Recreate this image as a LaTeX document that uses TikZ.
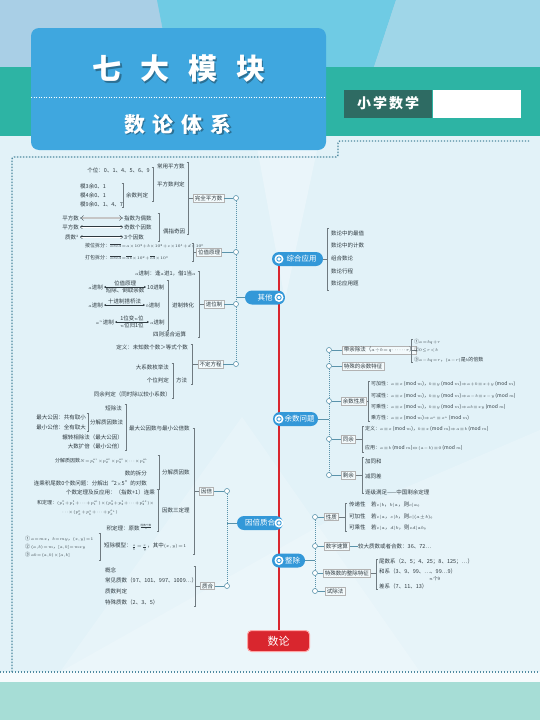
\RequirePackage{fix-cm}
\documentclass[tikz,border=0pt]{standalone}
\usepackage{amsmath}
\usepackage{fontspec}
\setmainfont{Noto Sans CJK SC}
\usetikzlibrary{positioning,arrows.meta,calc}
% smaller math inside the small texts
\DeclareMathSizes{5.5}{4.4}{3.3}{2.6}
\DeclareMathSizes{5}{4}{3}{2.4}

\definecolor{skyl}{HTML}{A9CFE6}
\definecolor{skyc}{HTML}{6FCBE4}
\definecolor{skyr}{HTML}{9FD6E8}
\definecolor{tealband}{HTML}{2DB4A4}
\definecolor{paper}{HTML}{E2F2F8}
\definecolor{titleblue}{HTML}{3FA7DF}
\definecolor{titleshade}{HTML}{2B6F93}
\definecolor{darkteal}{HTML}{2E6B63}
\definecolor{pillblue}{HTML}{3398D8}
\definecolor{dotc}{HTML}{5A93AB}
\definecolor{framedot}{HTML}{4F8AA0}
\definecolor{redline}{HTML}{D9262E}
\definecolor{textc}{HTML}{2F3A40}
\definecolor{brkc}{HTML}{6F7A80}
\definecolor{bottomteal}{HTML}{A6DDD6}

% tight math spacing for the small texts
\newcommand\tightmath{\thinmuskip=1mu\medmuskip=1mu\thickmuskip=1.5mu}
% brackets: texts on the left (bkl) or on the right (bkr)
\newcommand\bkl[3]{\draw[brk] ({#1-1.5},#2) -- (#1,#2) -- (#1,#3) -- ({#1-1.5},#3);}
\newcommand\bkr[3]{\draw[brk] ({#1+1.5},#2) -- (#1,#2) -- (#1,#3) -- ({#1+1.5},#3);}

\begin{document}
\begin{tikzpicture}[x=1pt, y=-1pt,
    pill/.style={rounded corners=7pt, fill=pillblue, text=white, font=\fontsize{7.5}{8}\selectfont, minimum height=14pt, inner xsep=3pt, inner ysep=0pt},
    ring/.style={circle, fill=white, minimum size=9pt, inner sep=0pt, path picture={\draw[pillblue, line width=0.9pt] (path picture bounding box.center) circle (2.2pt);}},
    sub/.style={draw=gray!60, fill=white!60!paper, text=textc, font=\fontsize{5.5}{6}\selectfont\tightmath, inner xsep=1.5pt, inner ysep=1.2pt, line width=0.5pt},
    dot/.style={circle, draw=dotc, fill=white, line width=0.6pt, minimum size=5pt, inner sep=0pt},
    txt/.style={font=\fontsize{5.5}{6.5}\selectfont\tightmath, text=textc, inner sep=0pt},
    tiny/.style={txt, font=\fontsize{5}{6}\selectfont\tightmath},
    brk/.style={draw=brkc, line width=0.45pt},
    link/.style={draw=dotc, line width=0.6pt},
    dotline/.style={draw=dotc, line width=0.8pt, dash pattern=on 0.8pt off 1.2pt},
    framedots/.style={draw=framedot, line width=1.4pt, dash pattern=on 1.4pt off 1.6pt},
    dbl/.style={double, double distance=0.9pt, line width=0.35pt, draw=textc, {Implies}-{Implies}, shorten <=1pt, shorten >=1pt},
    conv/.style={draw=textc, line width=0.4pt, {Stealth[length=2pt,width=2pt]}-{Stealth[length=2pt,width=2pt]}, shorten <=1pt, shorten >=1pt}]
  \useasboundingbox (0,0) rectangle (540,720);
  % background
  \fill[skyl] (0,0) rectangle (540,67);
  \fill[skyc] (157,0) -- (396,0) -- (374,67) -- (170,67) -- cycle;
  \fill[skyr] (396,0) -- (540,0) -- (540,67) -- (374,67) -- cycle;
  \fill[tealband] (0,67) rectangle (540,136);
  \fill[paper] (0,136) rectangle (540,682);
  \fill[white, opacity=0.3] (255,136) -- (320,136) -- (285,300) -- cycle;
  \fill[white, opacity=0.2] (242,417) -- (60,672) -- (420,672) -- cycle;
  \fill[white, opacity=0.2] (60,672) -- (330,520) -- (540,430) -- (540,672) -- cycle;
  \fill[white!70!paper] (0,672) rectangle (540,682);
  \fill[bottomteal] (0,682) rectangle (540,720);
  \draw[framedots, rounded corners=2pt] (12,672) -- (12,157) -- (338,157) -- (338,141) -- (529,141);
  \draw[framedots] (0,672) -- (540,672);

  % header
  \node[fill=titleblue, rounded corners=8pt, minimum width=295, minimum height=122] (title) at (178.5,89) {};
  \draw[white, line width=1pt, dash pattern=on 1pt off 1.5pt] (31,97) -- (326,97);
  \node[text=titleshade, font=\fontsize{29}{30}\selectfont\bfseries] at (180.5,70.5) {七\hspace{19pt}大\hspace{19pt}模\hspace{19pt}块};
  \node[text=white, font=\fontsize{29}{30}\selectfont\bfseries] (qidamk) at (179,69) {七\hspace{19pt}大\hspace{19pt}模\hspace{19pt}块};
  \node[text=titleshade, font=\fontsize{21}{22}\selectfont\bfseries] at (179.5,125.5) {数\hspace{8pt}论\hspace{8pt}体\hspace{8pt}系};
  \node[text=white, font=\fontsize{21}{22}\selectfont\bfseries] (shulunts) at (178,124) {数\hspace{8pt}论\hspace{8pt}体\hspace{8pt}系};
  \node[fill=darkteal, text=white, font=\fontsize{14}{15}\selectfont\bfseries, minimum width=88, minimum height=28, anchor=west] (xxsx) at (344,103.5) {小\hspace{2pt}学\hspace{2pt}数\hspace{2pt}学};
  \node[fill=white, minimum width=88, minimum height=28, inner sep=0pt, right=0pt of xxsx] (blank) {};

  % trunk
  \node[fill=redline, draw=red!35, line width=1pt, rounded corners=4pt, text=white, font=\fontsize{11}{12}\selectfont, minimum width=62, minimum height=21] (shulun) at (278.5,641) {数论};
  \coordinate (top) at (279,259);
  \draw[redline, line width=1.3pt] (top) -- (shulun.north -| top);
  \node[pill, minimum width=51] (zonghe) at (297.5,259) {\hspace{8pt}综合应用};
  \node[pill, minimum width=40] (qita) at (265,297.5) {其他\hspace{8pt}};
  \node[pill, minimum width=45] (yushu) at (295.5,419) {\hspace{8pt}余数问题};
  \node[pill, minimum width=46] (yinbei) at (260,523) {因倍质合\hspace{8pt}};
  \node[pill, minimum width=33] (zhengchu) at (288.5,560.5) {\hspace{8pt}整除};
  \foreach \y in {259,297.5,419,523,560.5}
    \node[ring] at (279,\y) {};

  % 其他
  \node[sub] (wanquan) at (208.5,198) {完全平方数};
  \node[sub] (weizhi) at (209,252) {位值原理};
  \node[sub] (jinwei) at (214,304) {进位制};
  \node[sub] (budingfc) at (210.5,364) {不定方程};
  \node[dot] (d-wanquan) at (236,198) {};
  \node[dot] (d-weizhi) at (236,252) {};
  \node[dot] (d-jinwei) at (236,304) {};
  \node[dot] (d-budingfc) at (236,364) {};
  \foreach \n in {wanquan,weizhi,jinwei,budingfc}
    \draw[link] (\n) -- (d-\n);
  \draw[dotline] (d-wanquan) -- (d-weizhi) -- (d-jinwei) -- (d-budingfc);
  \coordinate (j-qita) at (236,297.5);
  \draw[link] (qita.west) -- (j-qita);

  \node[txt, anchor=west] (cyps) at (157,166) {常用平方数};
  \node[txt, anchor=west] (pfpd) at (157,184) {平方数判定};
  \node[txt, anchor=east] (gewei) at (150,170) {个位：0、1、4、5、6、9};
  \node[txt, anchor=west] (mod3) at (80,186) {模3余0、1};
  \node[txt, anchor=west] (mod4) at (80,195) {模4余0、1};
  \node[txt, anchor=west] (mod9) at (80,204) {模9余0、1、4、7};
  \bkl{123}{183}{207}
  \node[txt, anchor=west] (yspd) at (126,195) {余数判定};
  \bkl{153}{167}{201}
  \node[txt, anchor=east] (pfs1) at (79,218) {平方数};
  \node[txt, anchor=west] (zsod) at (124,218) {指数为偶数};
  \node[txt, anchor=east] (pfs2) at (79,227) {平方数};
  \node[txt, anchor=west] (jsgys) at (124,227) {奇数个因数};
  \node[txt, anchor=east] (zsq) at (79,237) {质数$^2$};
  \node[txt, anchor=west] (sgys) at (124,237) {3个因数};
  \draw[dbl, double=gray!45, double distance=1.6pt] (pfs1) -- (zsod);
  \draw[dbl] (pfs2) -- (jsgys);
  \draw[dbl] (zsq) -- (sgys);
  \bkl{159}{213}{241}
  \node[txt, anchor=west] (ozjy) at (163,231) {偶指奇因};
  \bkl{188}{162}{234}
  \draw[brk] (188,198) -- (wanquan.west);

  \node[tiny, anchor=west] (awcf) at (85,246) {按位拆分：$\overline{abcd}=a\times10^3+b\times10^2+c\times10^1+d\times10^0$};
  \node[tiny, anchor=west] (dbcf) at (85,258) {打包拆分：$\overline{abcd}=\overline{ab}\times10^2+\overline{cd}\times10^0$};
  \bkl{193}{243}{261}
  \draw[brk] (193,252) -- (weizhi.west);

  \node[txt, anchor=west] (fenga) at (135,273) {$a$进制：逢$a$进1，借1当$a$};
  \node[txt, anchor=east] (ajz1) at (103,287) {$a$进制};
  \node[txt, anchor=west] (sjz1) at (147,287) {10进制};
  \draw[conv] (ajz1) -- (sjz1) node[midway, above=0.8pt, txt] {位值原理} node[midway, below=0.8pt, txt] {短除、倒取余数};
  \node[txt, anchor=east] (ajz2) at (103,305) {$a$进制};
  \node[txt, anchor=west] (bjz2) at (146,305) {$b$进制};
  \draw[conv] (ajz2) -- (bjz2) node[midway, above=0.8pt, txt] {十进制搭桥法};
  \node[txt, anchor=east] (anjz) at (114,322) {$a^n$进制};
  \node[txt, anchor=west] (ajz3) at (150,322) {$a$进制};
  \draw[conv] (anjz) -- (ajz3) node[midway, above=0.8pt, txt] {1位变$n$位} node[midway, below=0.8pt, txt] {$n$位归1位};
  \bkl{168}{280}{330}
  \node[txt, anchor=west] (jzzh) at (172,305) {进制转化};
  \node[txt, anchor=west] (szhh) at (153,334) {四则混合运算};
  \bkl{199}{271}{337}
  \draw[brk] (199,304) -- (jinwei.west);

  \node[txt, anchor=east] (dingyi) at (188,347) {定义：未知数个数＞等式个数};
  \node[txt, anchor=east] (dxsm) at (169,367) {大系数枚举法};
  \node[txt, anchor=east] (gwpd) at (169,380) {个位判定};
  \node[txt, anchor=east] (typd) at (171,394) {同余判定（同时除以较小系数）};
  \bkl{173}{363}{398}
  \node[txt, anchor=west] (fangfa) at (176,380) {方法};
  \bkl{192}{344}{384}
  \draw[brk] (192,364) -- (budingfc.west);

  % 因倍质合
  \node[sub] (yinbeib) at (206.5,491) {因倍};
  \node[sub] (zhihe) at (207.5,586) {质合};
  \node[dot] (d-yinbeib) at (227,491) {};
  \node[dot] (d-zhihe) at (227,586) {};
  \foreach \n in {yinbeib,zhihe}
    \draw[link] (\n) -- (d-\n);
  \draw[dotline] (d-yinbeib) -- (d-zhihe);
  \coordinate (j-yinbei) at (227,523);
  \draw[link] (yinbei.west) -- (j-yinbei);

  \node[txt, anchor=east] (dcf) at (122,408) {短除法};
  \node[txt, anchor=east] (zdgy) at (86,417) {最大公因：共有取小};
  \node[txt, anchor=east] (zxgb) at (86,427) {最小公倍：全有取大};
  \bkl{88}{413}{431}
  \node[txt, anchor=west] (fjzy) at (90,422) {分解质因数法};
  \node[txt, anchor=east] (zzxc) at (123,437) {辗转相除法（最大公因）};
  \node[txt, anchor=east] (dskb) at (123,446) {大数扩倍（最小公倍）};
  \bkl{126}{404}{450}
  \node[txt, anchor=west] (gygb) at (129,428) {最大公因数与最小公倍数};
  \node[tiny, anchor=west] (fjN) at (55,461) {分解质因数$N=p_1^{a_1}\times p_2^{a_2}\times p_3^{a_3}\times\cdots\times p_k^{a_k}$};
  \node[txt, anchor=east] (sdcf) at (147,473) {数的拆分};
  \node[txt, anchor=east] (wsl) at (147,484) {连乘积尾数0个数问题：分解出“2$\times$5”的对数};
  \bkl{159}{455}{489}
  \node[txt, anchor=west] (fjzys) at (162,472) {分解质因数};
  \node[txt, anchor=east] (gsdl) at (155,492.5) {个数定理及反应用：（指数+1）连乘};
  \node[tiny, anchor=west] (hdl) at (37,503) {和定理：$(p_1^0+p_1^1+\cdots+p_1^{a_1})\times(p_2^0+p_2^1+\cdots+p_2^{a_2})\times$};
  \node[tiny, anchor=west] (hdl2) at (62,513) {$\cdots\times(p_k^0+p_k^1+\cdots+p_k^{a_k})$};
  \node[txt, anchor=east] (jdl) at (153,527.5) {积定理：原数$^{\frac{\text{因数个数}}{2}}$};
  \bkl{158}{489}{531}
  \node[txt, anchor=west] (ysdl) at (162,510) {因数三定理};
  \node[tiny, anchor=west] (dc1) at (25,539) {①\,$a=mx$，$b=my$，$(x,y)=1$};
  \node[tiny, anchor=west] (dc2) at (25,547) {②\,$(a,b)=m$，$[a,b]=mxy$};
  \node[tiny, anchor=west] (dc3) at (25,555) {③\,$ab=(a,b)\times[a,b]$};
  \bkl{100}{533}{560}
  \node[txt, anchor=west] (dcmx) at (104,547) {短除模型：$\frac{a}{b}=\frac{x}{y}$，其中$(x,y)=1$};
  \bkl{194}{428}{554}
  \draw[brk] (194,491) -- (yinbeib.west);

  \node[txt, anchor=west] (gainian) at (105,570) {概念};
  \node[txt, anchor=west] (cjzs) at (105,580) {常见质数（97、101、997、1009…）};
  \node[txt, anchor=west] (zspd) at (105,591) {质数判定};
  \node[txt, anchor=west] (tszs) at (105,602) {特殊质数（2、3、5）};
  \bkl{195}{566}{606}
  \draw[brk] (195,586) -- (zhihe.west);

  % 综合应用
  \bkr{327}{228}{290}
  \draw[brk] (zonghe.east) -- (327,259);
  \node[txt, anchor=west] (zy1) at (331,233) {数论中的最值};
  \node[txt, anchor=west] (zy2) at (331,245) {数论中的计数};
  \node[txt, anchor=west] (zy3) at (331,258) {组合数论};
  \node[txt, anchor=west] (zy4) at (331,271) {数论行程};
  \node[txt, anchor=west] (zy5) at (331,283) {数论应用题};

  % 余数问题
  \node[sub, anchor=west] (daiyu) at (342,350) {带余除法（$a\div b=q\cdots\cdots r$）};
  \node[sub, anchor=west] (teshu) at (342,366) {特殊的余数特征};
  \node[sub, anchor=west] (yuxing) at (341,401) {余数性质};
  \node[sub, anchor=west] (tongyu) at (341,439) {同余};
  \node[sub, anchor=west] (shengyu) at (341,475) {剩余};
  \node[dot] (d-daiyu) at (329,350) {};
  \node[dot] (d-teshu) at (329,366) {};
  \node[dot] (d-yuxing) at (329,401) {};
  \node[dot] (d-tongyu) at (329,439) {};
  \node[dot] (d-shengyu) at (329,475) {};
  \foreach \n in {daiyu,teshu,yuxing,tongyu,shengyu}
    \draw[link] (d-\n) -- (\n);
  \draw[dotline] (d-daiyu) -- (d-teshu) -- (d-yuxing) -- (d-tongyu) -- (d-shengyu);
  \coordinate (j-yushu) at (329,419);
  \draw[link] (yushu.east) -- (j-yushu);

  \bkr{411}{339}{362}
  \draw[brk] (daiyu.east) -- (411,350);
  \node[tiny, anchor=west] (dy1) at (414,341.5) {①$a=bq+r$};
  \node[tiny, anchor=west] (dy2) at (414,350) {②$0\leq r<b$};
  \node[tiny, anchor=west] (dy3) at (414,359.5) {③$a-bq=r$，$(a-r)$是$b$的倍数};
  \bkr{368}{381}{421}
  \draw[brk] (yuxing.east) -- (368,401);
  \node[tiny, anchor=west] (yx1) at (371,384) {可加性：$a\equiv x$ (mod $m$)，$b\equiv y$ (mod $m$)$\Rightarrow a+b\equiv x+y$ (mod $m$)};
  \node[tiny, anchor=west] (yx2) at (371,396) {可减性：$a\equiv x$ (mod $m$)，$b\equiv y$ (mod $m$)$\Rightarrow a-b\equiv x-y$ (mod $m$)};
  \node[tiny, anchor=west] (yx3) at (371,407) {可乘性：$a\equiv x$ (mod $m$)，$b\equiv y$ (mod $m$)$\Rightarrow ab\equiv xy$ (mod $m$)};
  \node[tiny, anchor=west] (yx4) at (371,418) {乘方性：$a\equiv x$ (mod $m$)$\Rightarrow a^n\equiv x^n$ (mod $m$)};
  \bkr{362}{426}{452}
  \draw[brk] (tongyu.east) -- (362,439);
  \node[tiny, anchor=west] (ty1) at (365,429) {定义：$a\equiv x$ (mod $m$)，$b\equiv x$ (mod $m$)$\Rightarrow a\equiv b$ (mod $m$)};
  \node[tiny, anchor=west] (ty2) at (365,448) {应用：$a\equiv b$ (mod $m$)$\Leftrightarrow(a-b)\equiv0$ (mod $m$)};
  \bkr{362}{457}{493}
  \draw[brk] (shengyu.east) -- (362,475);
  \node[txt, anchor=west] (sy1) at (365,461) {加同和};
  \node[txt, anchor=west] (sy2) at (365,476) {减同差};
  \node[txt, anchor=west] (sy3) at (365,492) {逐级满足——中国剩余定理};

  % 整除
  \node[sub, anchor=west] (xingzhi) at (324,517) {性质};
  \node[sub, anchor=west] (susuan) at (324,546) {数字速算};
  \node[sub, anchor=west] (tezheng) at (323,573) {特殊数的整除特征};
  \node[sub, anchor=west] (shichu) at (325,591) {试除法};
  \node[dot] (d-xingzhi) at (315,517) {};
  \node[dot] (d-susuan) at (315,546) {};
  \node[dot] (d-tezheng) at (315,573) {};
  \node[dot] (d-shichu) at (315,591) {};
  \foreach \n in {xingzhi,susuan,tezheng,shichu}
    \draw[link] (d-\n) -- (\n);
  \draw[dotline] (d-xingzhi) -- (d-susuan) -- (d-tezheng) -- (d-shichu);
  \coordinate (j-zhengchu) at (315,560.5);
  \draw[link] (zhengchu.east) -- (j-zhengchu);

  \bkr{345}{503}{531}
  \draw[brk] (xingzhi.east) -- (345,517);
  \node[txt, anchor=west] (xz1) at (349,505) {传递性\quad 若$c|b$，$b|a$，则$c|a$。};
  \node[txt, anchor=west] (xz2) at (349,516.5) {可加性\quad 若$c|a$，$c|b$，则$c|(a\pm b)$。};
  \node[txt, anchor=west] (xz3) at (349,528) {可乘性\quad 若$c|a$，$d|b$，则$cd|ab$。};
  \node[txt, anchor=west] (sstxt) at (358,546) {较大质数或者合数：36、72…};
  \draw[link] (susuan) -- (sstxt);
  \bkr{376}{559}{589}
  \draw[brk] (tezheng.east) -- (376,573);
  \node[txt, anchor=west] (tz1) at (379,562) {尾数系（2、5；4、25；8、125；…）};
  \node[txt, anchor=west] (tz2) at (379,571) {和系（3、9、99、…、99…9）};
  \node[txt, anchor=west, font=\fontsize{4.5}{5}\selectfont] (tz2n) at (429,578.5) {$n$个9};
  \node[txt, anchor=west] (tz3) at (379,586) {差系（7、11、13）};
\end{tikzpicture}
\end{document}
